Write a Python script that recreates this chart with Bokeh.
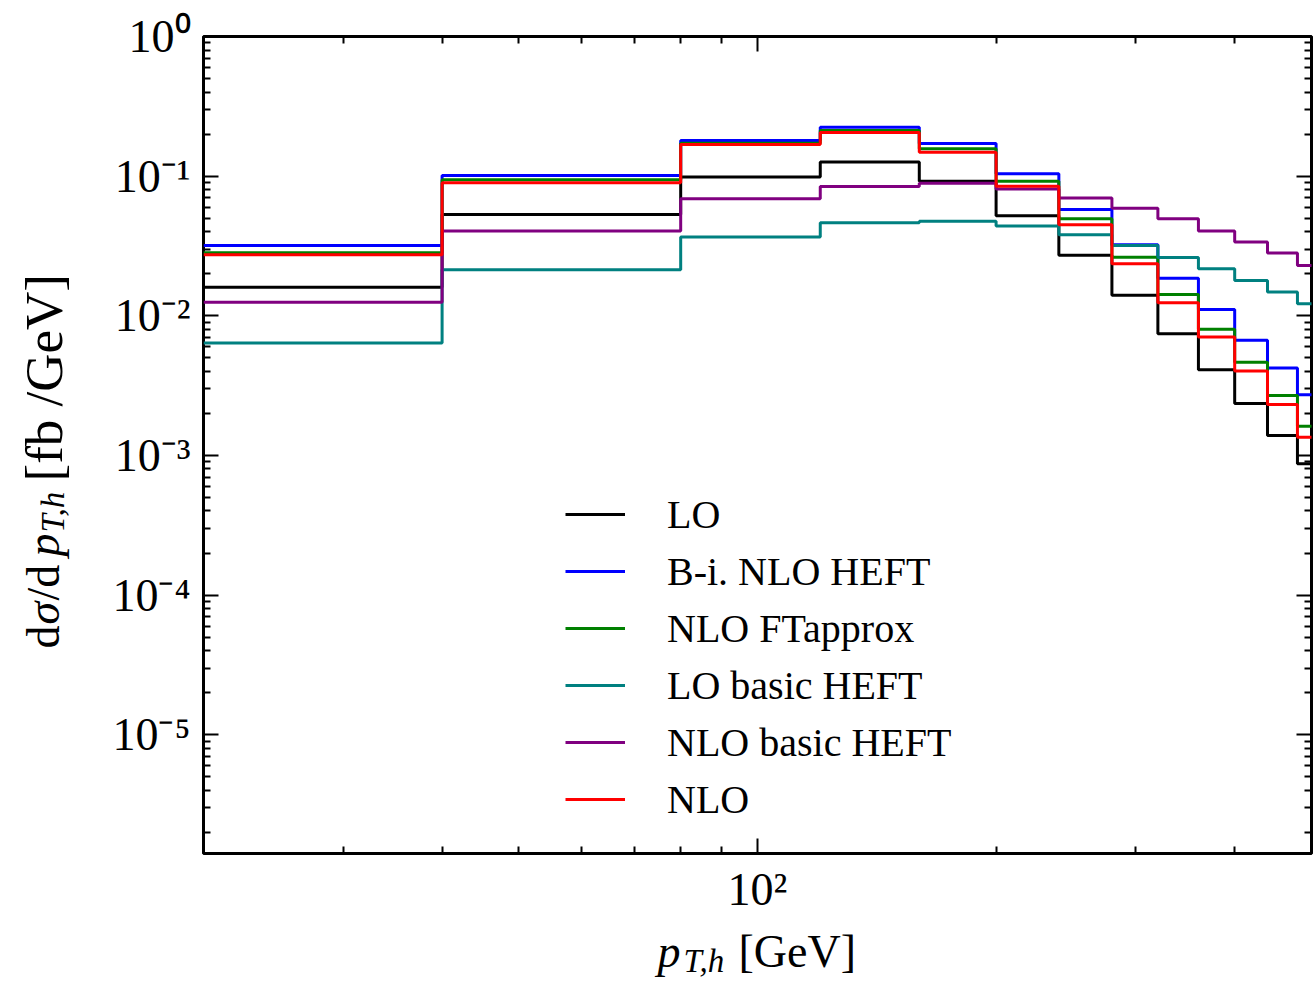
import math
from bokeh.plotting import figure
from bokeh.layouts import row, column
from bokeh.models import (FixedTicker, CustomJSTickFormatter, LogAxis,
                          Legend, LegendItem, Range1d)
from bokeh.core.properties import value
from bokeh.embed import file_html
from bokeh.resources import INLINE

# ---------------- data ----------------
edges = [20, 40, 80, 120, 160, 200, 240, 280, 320, 360, 400, 440, 480, 520]
labels = ["LO", "B-i. NLO HEFT", "NLO FTapprox", "LO basic HEFT", "NLO basic HEFT", "NLO"]
colors = ["#000000", "#0000ff", "#008000", "#008080", "#800080", "#ff0000"]
lo = [0.0160, 0.0532, 0.0984, 0.126, 0.092, 0.0520, 0.0271, 0.0140, 0.00745, 0.00411, 0.00235, 0.00139, 0.00087]
bi_nlo_heft = [0.0319, 0.1011, 0.180, 0.224, 0.171, 0.104, 0.0577, 0.0323, 0.0186, 0.0111, 0.00667, 0.00422, 0.00272]
nlo_ftapprox = [0.0283, 0.0942, 0.172, 0.212, 0.157, 0.092, 0.0495, 0.0263, 0.0142, 0.0080, 0.00464, 0.00269, 0.00162]
lo_basic_heft = [0.00638, 0.0214, 0.0366, 0.0464, 0.0476, 0.0440, 0.0380, 0.0319, 0.0261, 0.0217, 0.0179, 0.0148, 0.0122]
nlo_basic_heft = [0.0125, 0.0404, 0.0689, 0.0844, 0.0891, 0.0810, 0.0697, 0.0590, 0.0495, 0.0404, 0.0337, 0.0281, 0.0229]
nlo = [0.0274, 0.0897, 0.1686, 0.2055, 0.1485, 0.0845, 0.0449, 0.0236, 0.0124, 0.00704, 0.00402, 0.00232, 0.00135]
series = [lo, bi_nlo_heft, nlo_ftapprox, lo_basic_heft, nlo_basic_heft, nlo]

y_major = [1e-5, 1e-4, 1e-3, 1e-2, 1e-1, 1e0]
x_major = [100]
x_minor = [20, 30, 40, 50, 60, 70, 80, 90, 200, 300, 400, 500]
y_minor = [k * 10.0 ** e for e in range(-6, 0) for k in range(2, 10)]

SERIF = "Liberation Serif"
TICK_FS = "46px"

# ---------------- layout sizes ----------------
TOTAL_W, TOTAL_H = 1313, 981
YLAB_W = 85
MAIN_W = TOTAL_W - YLAB_W
MAIN_H = 925
XLAB_H = TOTAL_H - MAIN_H
FRAME_L, FRAME_R, FRAME_T, FRAME_B = 203, 1311, 36, 853

p = figure(width=MAIN_W, height=MAIN_H, x_axis_type="log", y_axis_type="log",
           x_range=Range1d(20, 500), y_range=Range1d(1.41e-6, 1.0),
           output_backend="svg", toolbar_location=None,
           min_border_left=FRAME_L - YLAB_W, min_border_right=TOTAL_W - FRAME_R,
           min_border_top=FRAME_T, min_border_bottom=MAIN_H - FRAME_B)
p.background_fill_color = "white"
p.border_fill_color = "white"
p.outline_line_color = "black"
p.outline_line_width = 3
p.xgrid.visible = False
p.ygrid.visible = False

sup_fmt = CustomJSTickFormatter(code="""
const e = Math.round(Math.log10(tick));
const sup = {'-':'\u207b','0':'\u2070','1':'\u00b9','2':'\u00b2','3':'\u00b3','4':'\u2074','5':'\u2075','6':'\u2076','7':'\u2077','8':'\u2078','9':'\u2079'};
return '10' + String(e).split('').map(c => sup[c]).join('');
""")
blank_fmt = CustomJSTickFormatter(code="return '';")

def style_axis(ax, fmt, show, standoff=12):
    ax.axis_line_color = None
    ax.major_tick_in = 15
    ax.major_tick_out = 0
    ax.minor_tick_in = 7
    ax.minor_tick_out = 0
    ax.major_tick_line_width = 2
    ax.minor_tick_line_width = 2
    ax.major_tick_line_color = "black"
    ax.minor_tick_line_color = "black"
    ax.formatter = fmt
    ax.major_label_text_font = SERIF
    ax.major_label_text_font_size = TICK_FS if show else "1px"
    ax.major_label_text_color = "black"
    ax.major_label_standoff = standoff if show else 0

p.xaxis.ticker = FixedTicker(ticks=x_major, minor_ticks=x_minor)
p.yaxis.ticker = FixedTicker(ticks=y_major, minor_ticks=y_minor)
style_axis(p.xaxis[0], sup_fmt, True, standoff=10)
style_axis(p.yaxis[0], sup_fmt, True, standoff=13)

top_ax = LogAxis(ticker=FixedTicker(ticks=x_major, minor_ticks=x_minor))
right_ax = LogAxis(ticker=FixedTicker(ticks=y_major, minor_ticks=y_minor))
style_axis(top_ax, blank_fmt, False)
style_axis(right_ax, blank_fmt, False)
p.add_layout(top_ax, "above")
p.add_layout(right_ax, "right")

renderers = []
for vals, col in zip(series, colors):
    ys = list(vals) + [vals[-1]]
    r = p.step(edges, ys, mode="after", line_color=col, line_width=3)
    renderers.append(r)

legend = Legend(items=[LegendItem(label=l, renderers=[r]) for l, r in zip(labels, renderers)],
                location=(362, 29), orientation="vertical",
                glyph_width=60, glyph_height=50, label_height=50, spacing=7,
                label_standoff=42, padding=0, margin=0,
                border_line_color=None, background_fill_alpha=0,
                label_text_font=SERIF, label_text_font_size="40px",
                label_text_color="black")
p.add_layout(legend, "center")


def label_fig(w, h, bl=0, br=0):
    f = figure(width=w, height=h, x_range=Range1d(0, w - bl - br), y_range=Range1d(0, h),
               output_backend="svg", toolbar_location=None,
               x_axis_location=None, y_axis_location=None,
               min_border=0, min_border_left=bl, min_border_right=br,
               min_border_top=0, min_border_bottom=0)
    f.outline_line_color = None
    f.background_fill_color = "white"
    f.border_fill_color = "white"
    f.grid.visible = False
    return f


def put(f, x, y, txt, size, italic=False, angle=0.0):
    f.text(x=[x], y=[y], text=[txt], text_font=value(SERIF),
           text_font_size=value(size),
           text_font_style="italic" if italic else "normal",
           text_color="black", angle=angle,
           text_align="left", text_baseline="alphabetic")


# y-axis label: dσ/d p_{T,h} [fb/GeV]  (data: x = page_x, y = TOTAL_H - page_y)
ylab = label_fig(YLAB_W, TOTAL_H)
A = math.pi / 2
BX = 43  # baseline x on page (empirically corrected)
put(ylab, BX, TOTAL_H - 648, "d", "46px", angle=A)
put(ylab, BX, TOTAL_H - 624, "\u03c3", "46px", italic=True, angle=A)
put(ylab, BX, TOTAL_H - 600, "/d", "46px", angle=A)
put(ylab, BX, TOTAL_H - 556, "p", "46px", italic=True, angle=A)
put(ylab, BX + 9, TOTAL_H - 532, "T,h", "33px", italic=True, angle=A)
put(ylab, BX, TOTAL_H - 481, "[fb /GeV]", "53px", angle=A)

# x-axis label: p_{T,h} [GeV]  (data: x = page_x - FRAME_L, y = TOTAL_H - page_y)
xlab = label_fig(MAIN_W, XLAB_H, bl=FRAME_L - YLAB_W, br=TOTAL_W - FRAME_R)
BY = 951  # baseline y on page (empirically corrected)
put(xlab, 657 - FRAME_L, TOTAL_H - BY, "p", "46px", italic=True)
put(xlab, 683 - FRAME_L, TOTAL_H - BY - 9, "T,h", "33px", italic=True)
put(xlab, 738 - FRAME_L, TOTAL_H - BY, "[GeV]", "46px")

layout = row(ylab, column(p, xlab, spacing=0), spacing=0)

open("out.html", "w").write(file_html(layout, INLINE))
